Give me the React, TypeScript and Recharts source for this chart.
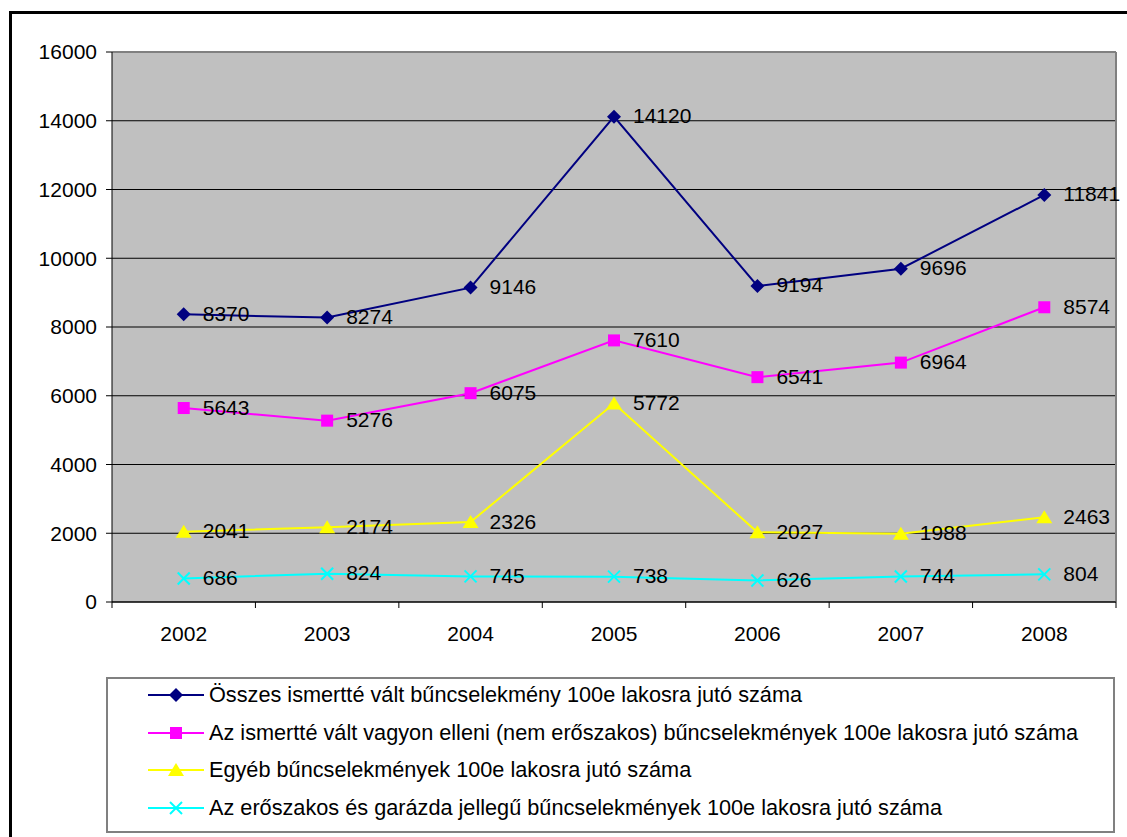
import React from 'react';
import { LineChart, Line, XAxis, YAxis, CartesianGrid, ReferenceLine, LabelList } from 'recharts';

const years = ['2002', '2003', '2004', '2005', '2006', '2007', '2008'];
const osszes = [8370, 8274, 9146, 14120, 9194, 9696, 11841];
const vagyon = [5643, 5276, 6075, 7610, 6541, 6964, 8574];
const egyeb = [2041, 2174, 2326, 5772, 2027, 1988, 2463];
const eroszakos = [686, 824, 745, 738, 626, 744, 804];
const yTicks = [0, 2000, 4000, 6000, 8000, 10000, 12000, 14000, 16000];

const series = [
  { key: 'osszes', name: 'Összes ismertté vált bűncselekmény 100e lakosra jutó száma', color: '#000080', shape: 'diamond', values: osszes },
  { key: 'vagyon', name: 'Az ismertté vált vagyon elleni (nem erőszakos) bűncselekmények 100e lakosra jutó száma', color: '#FF00FF', shape: 'square', values: vagyon },
  { key: 'egyeb', name: 'Egyéb bűncselekmények 100e lakosra jutó száma', color: '#FFFF00', shape: 'triangle', values: egyeb },
  { key: 'eroszakos', name: 'Az erőszakos és garázda jellegű bűncselekmények 100e lakosra jutó száma', color: '#00FFFF', shape: 'cross', values: eroszakos },
];

const data = years.map((year, i) => {
  const row: any = { x: i, year };
  series.forEach((s) => (row[s.key] = s.values[i]));
  return row;
});

const FONT = '"Liberation Sans", Arial, sans-serif';
const W = 1127;
const H = 837;
const PLOT_LEFT = 112;
const PLOT_RIGHT = 1116;
const PLOT_TOP = 52;
const PLOT_BOTTOM = 602;
const STEP = (PLOT_RIGHT - PLOT_LEFT) / years.length;

const Marker = ({ shape, cx, cy, color }: any) => {
  if (cx == null || cy == null) return null;
  if (shape === 'diamond')
    return <polygon points={`${cx},${cy - 7} ${cx + 7},${cy} ${cx},${cy + 7} ${cx - 7},${cy}`} fill={color} />;
  if (shape === 'square') return <rect x={cx - 6} y={cy - 6} width={12} height={12} fill={color} />;
  if (shape === 'triangle')
    return <polygon points={`${cx},${cy - 7} ${cx + 8},${cy + 6} ${cx - 8},${cy + 6}`} fill={color} />;
  return (
    <g stroke={color} strokeWidth={2}>
      <line x1={cx - 6} y1={cy - 6} x2={cx + 6} y2={cy + 6} />
      <line x1={cx - 6} y1={cy + 6} x2={cx + 6} y2={cy - 6} />
    </g>
  );
};

const XTick = ({ x, y, payload }: any) => {
  const last = payload.value === years.length - 1;
  return (
    <g>
      <line x1={x - STEP / 2} y1={y} x2={x - STEP / 2} y2={y + 6} stroke="#000" />
      {last && <line x1={x + STEP / 2} y1={y} x2={x + STEP / 2} y2={y + 6} stroke="#000" />}
      <text x={x} y={y + 31} textAnchor="middle" dominantBaseline="central" fontSize={21} fontFamily={FONT} fill="#000">
        {years[payload.value]}
      </text>
    </g>
  );
};

const ValueLabel = (props: any) => {
  const { x, y, value } = props;
  return (
    <text x={x + 19} y={y - 1} dominantBaseline="central" fontSize={21} fontFamily={FONT} fill="#000">
      {value}
    </text>
  );
};

export default function App() {
  return (
    <div style={{ position: 'absolute', left: 0, top: 0, width: W, height: H, overflow: 'hidden', background: '#fff' }}>
      <div style={{ position: 'absolute', left: 9, top: 11, width: 1300, height: 1000, border: '3px solid #000' }} />
      <div style={{ position: 'absolute', left: 0, top: 0 }}>
        <LineChart
          width={W}
          height={H}
          data={data}
          margin={{ top: PLOT_TOP, right: W - PLOT_RIGHT, left: 0, bottom: H - PLOT_BOTTOM - 40 }}
        >
          <CartesianGrid vertical={false} stroke="#000" fill="#C0C0C0" fillOpacity={1} />
          <XAxis
            dataKey="x"
            type="number"
            domain={[-0.5, years.length - 0.5]}
            ticks={years.map((_, i) => i)}
            interval={0}
            height={40}
            tickLine={false}
            tickSize={0}
            tickMargin={0}
            axisLine={{ stroke: '#000' }}
            tick={<XTick />}
          />
          <YAxis
            domain={[0, 16000]}
            ticks={yTicks}
            interval={0}
            width={PLOT_LEFT}
            tickSize={6}
            tickMargin={9}
            axisLine={{ stroke: '#000' }}
            tickLine={{ stroke: '#000' }}
            tick={{ fontSize: 21, fontFamily: FONT, fill: '#000' }}
          />
          <ReferenceLine y={16000} stroke="#808080" strokeWidth={2} />
          <ReferenceLine x={years.length - 0.5} stroke="#808080" strokeWidth={2} />
          {series.map((s) => (
            <Line
              key={s.key}
              dataKey={s.key}
              name={s.name}
              stroke={s.color}
              strokeWidth={2}
              isAnimationActive={false}
              dot={(p: any) => <Marker key={`${s.key}-${p.index}`} shape={s.shape} cx={p.cx} cy={p.cy} color={s.color} />}
              activeDot={false}
            >
              <LabelList dataKey={s.key} content={<ValueLabel />} />
            </Line>
          ))}
        </LineChart>
      </div>
      <div
        style={{
          position: 'absolute',
          left: 106,
          top: 677,
          width: 1005,
          height: 152,
          border: '2px solid #808080',
          background: '#fff',
          fontFamily: FONT,
          fontSize: 21.7,
          color: '#000',
        }}
      >
        {series.map((s, i) => (
          <div key={s.key} style={{ position: 'absolute', left: 40, top: 16 + i * 37.5 - 14, height: 28, display: 'flex', alignItems: 'center' }}>
            <svg width={58} height={28} style={{ display: 'block' }}>
              <line x1={0} y1={14} x2={56} y2={14} stroke={s.color} strokeWidth={2} />
              <Marker shape={s.shape} cx={28} cy={14} color={s.color} />
            </svg>
            <span style={{ marginLeft: 3, whiteSpace: 'nowrap' }}>{s.name}</span>
          </div>
        ))}
      </div>
    </div>
  );
}
